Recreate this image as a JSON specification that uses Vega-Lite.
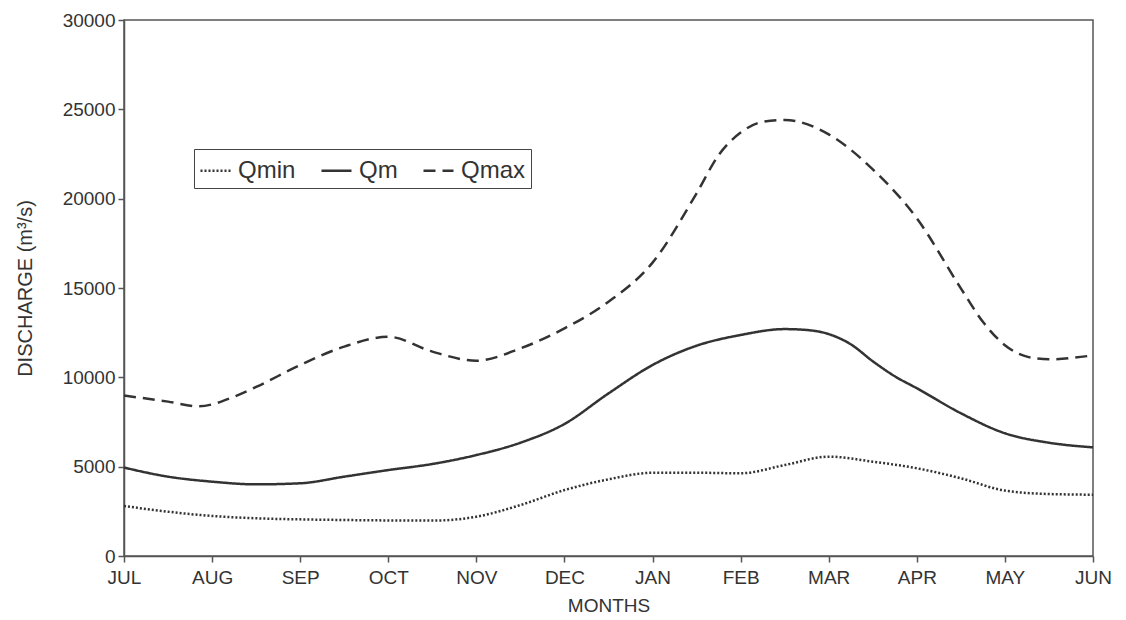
{
  "$schema": "https://vega.github.io/schema/vega-lite/v6.json",
  "width": 969,
  "height": 536,
  "autosize": {"type": "none"},
  "padding": {"left": 124, "top": 20, "right": 33, "bottom": 64},
  "background": "#ffffff",
  "config": {
    "font": "Liberation Sans",
    "view": {"stroke": "#555555", "strokeWidth": 1.5},
    "axis": {
      "grid": false,
      "domainColor": "#555555",
      "domainWidth": 1.5,
      "tickColor": "#555555",
      "tickWidth": 1.5,
      "tickSize": 6,
      "labelColor": "#333333",
      "titleColor": "#333333",
      "labelFont": "Liberation Sans",
      "titleFont": "Liberation Sans",
      "labelFontSize": 19,
      "titleFontSize": 19,
      "titleFontWeight": "normal"
    }
  },
  "data": {
    "values": [
      {"m": 0, "series": "Qmin", "q": 2800}, {"m": 0.5, "series": "Qmin", "q": 2480}, {"m": 1, "series": "Qmin", "q": 2240}, {"m": 1.5, "series": "Qmin", "q": 2110}, {"m": 2, "series": "Qmin", "q": 2050}, {"m": 2.5, "series": "Qmin", "q": 2015}, {"m": 3, "series": "Qmin", "q": 1990}, {"m": 3.5, "series": "Qmin", "q": 1980}, {"m": 4, "series": "Qmin", "q": 2200}, {"m": 4.5, "series": "Qmin", "q": 2850}, {"m": 5, "series": "Qmin", "q": 3690}, {"m": 5.5, "series": "Qmin", "q": 4290}, {"m": 6, "series": "Qmin", "q": 4660}, {"m": 6.5, "series": "Qmin", "q": 4660}, {"m": 7, "series": "Qmin", "q": 4630}, {"m": 7.5, "series": "Qmin", "q": 5090}, {"m": 8, "series": "Qmin", "q": 5560}, {"m": 8.5, "series": "Qmin", "q": 5280}, {"m": 9, "series": "Qmin", "q": 4910}, {"m": 9.5, "series": "Qmin", "q": 4350}, {"m": 10, "series": "Qmin", "q": 3660}, {"m": 10.5, "series": "Qmin", "q": 3470}, {"m": 11, "series": "Qmin", "q": 3430},
      {"m": 0, "series": "Qm", "q": 4950}, {"m": 0.5, "series": "Qm", "q": 4440}, {"m": 1, "series": "Qm", "q": 4160}, {"m": 1.5, "series": "Qm", "q": 4010}, {"m": 2, "series": "Qm", "q": 4070}, {"m": 2.5, "series": "Qm", "q": 4440}, {"m": 3, "series": "Qm", "q": 4810}, {"m": 3.5, "series": "Qm", "q": 5150}, {"m": 4, "series": "Qm", "q": 5650}, {"m": 4.5, "series": "Qm", "q": 6340}, {"m": 5, "series": "Qm", "q": 7390}, {"m": 5.5, "series": "Qm", "q": 9100}, {"m": 6, "series": "Qm", "q": 10690}, {"m": 6.5, "series": "Qm", "q": 11770}, {"m": 7, "series": "Qm", "q": 12370}, {"m": 7.5, "series": "Qm", "q": 12700}, {"m": 7.75, "series": "Qm", "q": 12650}, {"m": 8, "series": "Qm", "q": 12420}, {"m": 8.25, "series": "Qm", "q": 11850}, {"m": 8.5, "series": "Qm", "q": 10900}, {"m": 8.75, "series": "Qm", "q": 10060}, {"m": 9, "series": "Qm", "q": 9390}, {"m": 9.5, "series": "Qm", "q": 7990}, {"m": 10, "series": "Qm", "q": 6870}, {"m": 10.5, "series": "Qm", "q": 6340}, {"m": 11, "series": "Qm", "q": 6080},
      {"m": 0, "series": "Qmax", "q": 8980}, {"m": 0.5, "series": "Qmax", "q": 8640}, {"m": 0.85, "series": "Qmax", "q": 8380}, {"m": 1.25, "series": "Qmax", "q": 8920}, {"m": 1.5, "series": "Qmax", "q": 9460}, {"m": 2, "series": "Qmax", "q": 10690}, {"m": 2.5, "series": "Qmax", "q": 11720}, {"m": 3, "series": "Qmax", "q": 12270}, {"m": 3.5, "series": "Qmax", "q": 11440}, {"m": 4, "series": "Qmax", "q": 10930}, {"m": 4.5, "series": "Qmax", "q": 11620}, {"m": 5, "series": "Qmax", "q": 12740}, {"m": 5.5, "series": "Qmax", "q": 14230}, {"m": 6, "series": "Qmax", "q": 16420}, {"m": 6.5, "series": "Qmax", "q": 20300}, {"m": 6.75, "series": "Qmax", "q": 22440}, {"m": 7, "series": "Qmax", "q": 23700}, {"m": 7.25, "series": "Qmax", "q": 24300}, {"m": 7.5, "series": "Qmax", "q": 24400}, {"m": 8, "series": "Qmax", "q": 23600}, {"m": 8.5, "series": "Qmax", "q": 21640}, {"m": 9, "series": "Qmax", "q": 18900}, {"m": 9.5, "series": "Qmax", "q": 14980}, {"m": 9.75, "series": "Qmax", "q": 13110}, {"m": 10, "series": "Qmax", "q": 11800}, {"m": 10.25, "series": "Qmax", "q": 11160}, {"m": 10.5, "series": "Qmax", "q": 11010}, {"m": 11, "series": "Qmax", "q": 11230}
    ]
  },
  "mark": {"type": "line", "interpolate": "monotone", "strokeWidth": 2.5, "color": "#333333"},
  "encoding": {
    "x": {
      "field": "m",
      "type": "quantitative",
      "scale": {"domain": [0, 11], "nice": false, "zero": false},
      "axis": {
        "title": "MONTHS",
        "values": [0, 1, 2, 3, 4, 5, 6, 7, 8, 9, 10, 11],
        "labelExpr": "['JUL','AUG','SEP','OCT','NOV','DEC','JAN','FEB','MAR','APR','MAY','JUN'][datum.value]",
        "labelPadding": 6,
        "titlePadding": 9,
        "labelFlush": false,
        "labelOverlap": false
      }
    },
    "y": {
      "field": "q",
      "type": "quantitative",
      "scale": {"domain": [0, 30000], "nice": false},
      "axis": {
        "title": "DISCHARGE (m³/s)",
        "titleFontSize": 20,
        "values": [0, 5000, 10000, 15000, 20000, 25000, 30000],
        "format": "d",
        "labelPadding": 3,
        "titlePadding": 27
      }
    },
    "strokeDash": {
      "field": "series",
      "type": "nominal",
      "scale": {"domain": ["Qmin", "Qm", "Qmax"], "range": [[2, 2], [1, 0], [12, 7]]},
      "legend": {
        "title": null,
        "orient": "none",
        "legendX": 70,
        "legendY": 129,
        "direction": "horizontal",
        "fillColor": "#ffffff",
        "strokeColor": "#444444",
        "padding": 5,
        "symbolType": "stroke",
        "symbolSize": 900,
        "symbolStrokeWidth": 2.5,
        "symbolStrokeColor": "#333333",
        "labelFontSize": 24,
        "labelColor": "#333333",
        "labelFont": "Liberation Sans",
        "labelOffset": 6,
        "columnPadding": 20,
        "offset": 0
      }
    }
  }
}
